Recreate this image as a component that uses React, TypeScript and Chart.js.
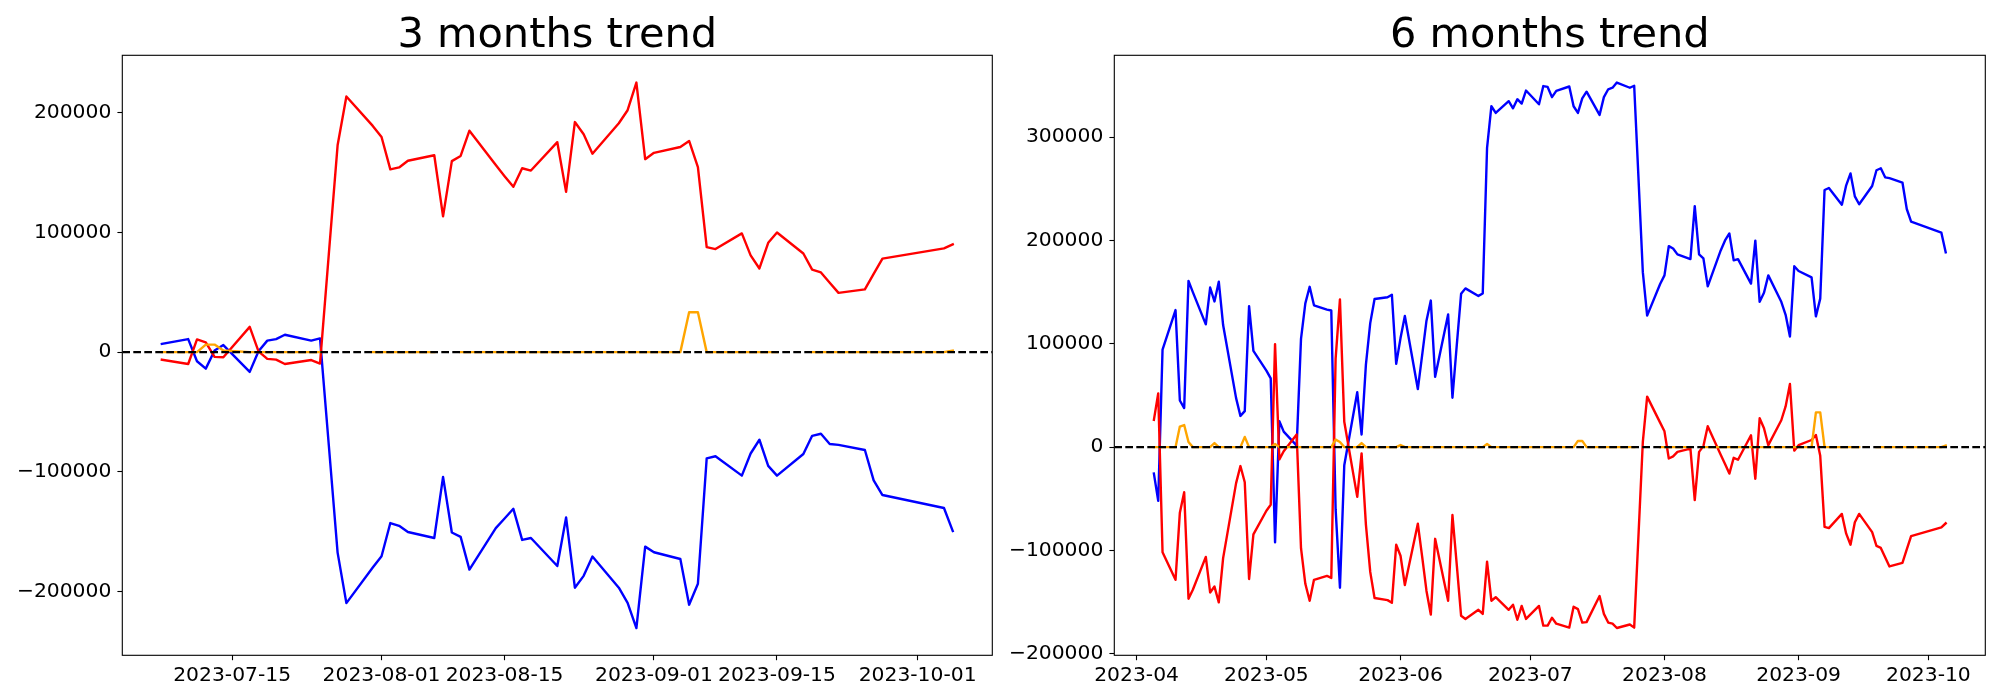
import React, { useEffect, useRef } from "react";
import { Chart, registerables } from "chart.js";

Chart.register(...registerables);

// ---------------- 3 months trend ----------------
const dates3m = [
  "2023-07-07", "2023-07-10", "2023-07-11", "2023-07-12", "2023-07-13", "2023-07-14",
  "2023-07-17", "2023-07-18", "2023-07-19", "2023-07-20", "2023-07-21",
  "2023-07-24", "2023-07-25", "2023-07-26", "2023-07-27", "2023-07-28", "2023-07-31",
  "2023-08-01", "2023-08-02", "2023-08-03", "2023-08-04",
  "2023-08-07", "2023-08-08", "2023-08-09", "2023-08-10", "2023-08-11",
  "2023-08-14", "2023-08-15", "2023-08-16", "2023-08-17", "2023-08-18",
  "2023-08-21", "2023-08-22", "2023-08-23", "2023-08-24", "2023-08-25",
  "2023-08-28", "2023-08-29", "2023-08-30", "2023-08-31",
  "2023-09-01", "2023-09-04", "2023-09-05", "2023-09-06", "2023-09-07", "2023-09-08",
  "2023-09-11", "2023-09-12", "2023-09-13", "2023-09-14", "2023-09-15",
  "2023-09-18", "2023-09-19", "2023-09-20", "2023-09-21", "2023-09-22",
  "2023-09-25", "2023-09-26", "2023-09-27", "2023-10-04", "2023-10-05",
];
const blue3m = [
  6900, 10900, -7600, -13800, 1300, 5900,
  -16500, 700, 9600, 10900, 14500,
  9600, 11500, -77800, -167500, -209700, -180000,
  -170500, -142800, -145100, -150300,
  -155300, -104200, -150700, -154300, -181700,
  -147000, -139000, -130900, -156900, -155300,
  -178700, -138100, -196800, -186900, -170800,
  -196800, -209400, -230500, -162500,
  -167200, -172800, -211000, -193500, -88700, -87000,
  -103200, -84700, -73200, -95000, -103200,
  -85100, -69900, -68200, -76800, -77500,
  -81800, -107200, -119400, -130200, -149400,
];
const red3m = [
  -6300, -9900, 10600, 8200, -4000, -4300,
  21100, 700, -5600, -6300, -9900,
  -6600, -9600, 81800, 172800, 213600, 189000,
  179700, 152700, 154300, 159900,
  164500, 113400, 159600, 163900, 185000,
  156300, 147000, 138100, 153600, 151700,
  175400, 133900, 192200, 182000, 165800,
  191200, 202100, 225200, 161200,
  166500, 171400, 176400, 154600, 87700, 86100,
  99200, 80800, 69900, 91300, 99900,
  82400, 68900, 66600, 58000, 49500,
  52400, 65300, 78100, 86700, 90000,
];
const orange3m = [
  0, 0, 0, 6300, 6300, 1300,
  0, 0, 0, 0, 0,
  0, 0, null, null, null, 0,
  0, 0, 0, 0,
  0, null, null, 0, 0,
  0, 0, 0, 0, 0,
  0, 0, 0, 0, 0,
  0, 0, 0, 0,
  0, 0, 33300, 33300, 0, 0,
  0, 0, 0, 0, 0,
  null, 0, 0, 0, 0,
  0, 0, 0, 0, 1300,
];
const xTickDates3m = ["2023-07-15", "2023-08-01", "2023-08-15", "2023-09-01", "2023-09-15", "2023-10-01"];
const xTickLabels3m = ["2023-07-15", "2023-08-01", "2023-08-15", "2023-09-01", "2023-09-15", "2023-10-01"];
const yTicks3m = [-200000, -100000, 0, 100000, 200000];

// ---------------- 6 months trend ----------------
const dates6m = [
  "2023-04-05", "2023-04-06", "2023-04-07",
  "2023-04-10", "2023-04-11", "2023-04-12", "2023-04-13", "2023-04-14",
  "2023-04-17", "2023-04-18", "2023-04-19", "2023-04-20", "2023-04-21",
  "2023-04-24", "2023-04-25", "2023-04-26", "2023-04-27", "2023-04-28",
  "2023-05-01", "2023-05-02", "2023-05-03", "2023-05-04", "2023-05-05",
  "2023-05-08", "2023-05-09", "2023-05-10", "2023-05-11", "2023-05-12",
  "2023-05-15", "2023-05-16", "2023-05-17", "2023-05-18", "2023-05-19",
  "2023-05-22", "2023-05-23", "2023-05-24", "2023-05-25", "2023-05-26",
  "2023-05-29", "2023-05-30", "2023-05-31",
  "2023-06-01", "2023-06-02",
  "2023-06-05", "2023-06-06", "2023-06-07", "2023-06-08", "2023-06-09",
  "2023-06-12", "2023-06-13", "2023-06-14", "2023-06-15", "2023-06-16",
  "2023-06-19", "2023-06-20", "2023-06-21", "2023-06-22", "2023-06-23",
  "2023-06-26", "2023-06-27", "2023-06-28", "2023-06-29", "2023-06-30",
  "2023-07-03", "2023-07-04", "2023-07-05", "2023-07-06", "2023-07-07",
  "2023-07-10", "2023-07-11", "2023-07-12", "2023-07-13", "2023-07-14",
  "2023-07-17", "2023-07-18", "2023-07-19", "2023-07-20", "2023-07-21",
  "2023-07-24", "2023-07-25", "2023-07-26", "2023-07-27", "2023-07-28",
  "2023-07-31",
  "2023-08-01", "2023-08-02", "2023-08-03", "2023-08-04",
  "2023-08-07", "2023-08-08", "2023-08-09", "2023-08-10", "2023-08-11",
  "2023-08-14", "2023-08-15", "2023-08-16", "2023-08-17", "2023-08-18",
  "2023-08-21", "2023-08-22", "2023-08-23", "2023-08-24", "2023-08-25",
  "2023-08-28", "2023-08-29", "2023-08-30", "2023-08-31",
  "2023-09-01",
  "2023-09-04", "2023-09-05", "2023-09-06", "2023-09-07", "2023-09-08",
  "2023-09-11", "2023-09-12", "2023-09-13", "2023-09-14", "2023-09-15",
  "2023-09-18", "2023-09-19", "2023-09-20", "2023-09-21", "2023-09-22",
  "2023-09-25", "2023-09-26", "2023-09-27",
  "2023-10-04", "2023-10-05",
];
const blue6m = [
  -25600, -52000, 94400,
  132600, 45100, 37800, 160900, 150000,
  118800, 154400, 141000, 160100, 118100,
  47400, 30200, 34800, 136400, 93200,
  74100, 66500, -92100, 25200, 15000,
  1500, 104700, 139100, 155100, 137200,
  133000, 132200, -60000, -136000, -17600,
  53100, 12200, 79900, 120000, 143300,
  145000, 147500, 80600,
  105500, 126900,
  56200, 89000, 122300, 141800, 68000,
  128400, 47800, 98600, 148300, 153600,
  146300, 148600, 289600, 329800, 323300,
  334700, 327800, 336600, 332400, 345000,
  331700, 349300, 348500, 338600, 344700,
  348900, 329800, 323300, 337400, 343900,
  321400, 338600, 346200, 347700, 352700,
  347700, 349600, 260000, 169300, 127200,
  157800,
  166200, 194500, 192200, 186500,
  181900, 233100, 186500, 182600, 155500,
  190300, 200000, 206700, 180700, 181900,
  158200, 199800, 140600, 149400, 166200,
  140600, 128000, 107000, 175000,
  170400,
  164300, 126500, 143700, 248800, 250700,
  234600, 253300, 264800, 242600, 235000,
  252600, 267900, 269800, 261000, 260200,
  256000, 230400, 218200,
  207500, 188400,
];
const red6m = [
  26400, 52000, -101600,
  -128400, -63400, -43600, -146700, -138000,
  -106200, -140600, -134900, -150200, -107400,
  -34800, -18300, -34000, -127600, -84400,
  -61500, -55800, 99700, -11800, -4000,
  12200, -97800, -132200, -148600, -128400,
  -124600, -126500, 85600, 142900, 24500,
  -48100, -6100, -74900, -120700, -146000,
  -148000, -150600, -94400,
  -105100, -133400,
  -74100, -106000, -139100, -162000, -88700,
  -148600, -65700, -114000, -163200, -166200,
  -157400, -161300, -110800, -148600, -145200,
  -157400, -152500, -167000, -153600, -166200,
  -153600, -172700, -172700, -165100, -170800,
  -174600, -154400, -156700, -169700, -169300,
  -144100, -161300, -169700, -170800, -175000,
  -171600, -174600, -85000, 5000, 48900,
  23700,
  15300, -11000, -9000, -4600,
  -1500, -51200, -4600, 1000, 20300,
  -7300, -16400, -25600, -10300, -12200,
  11500, -30600, 27900, 18300, 1900,
  26000, 39400, 61100, -3400,
  1900,
  6900, 11800, -8400, -77100, -78300,
  -64600, -83700, -94400, -72600, -64600,
  -82200, -95600, -97500, -106600, -115400,
  -112000, -99000, -86000,
  -77600, -73700,
];
const orange6m = [
  0, 0, 0,
  0, 19900, 21400, 5000, 0,
  0, 0, 4000, 0, 0,
  0, 0, 9900, 0, 0,
  0, 0, 3000, 0, 0,
  0, 0, 0, 0, 0,
  0, 0, 7300, 5000, 0,
  0, 4000, 0, 0, 0,
  0, 0, 0,
  2000, 0,
  0, 0, 0, 0, 0,
  0, 0, 0, 0, 0,
  0, 0, 3000, 0, 0,
  0, 0, 0, 0, 0,
  0, 0, 0, 0, 0,
  0, 0, 6000, 6000, 0,
  0, 0, 0, 0, 0,
  0, 0, null, null, null,
  0,
  0, 0, 0, 0,
  0, null, null, 0, 0,
  0, 0, 0, 0, 0,
  0, 0, 0, 0, 0,
  0, 0, 0, 0,
  0,
  0, 33600, 33600, 0, 0,
  0, 0, 0, 0, 0,
  null, 0, 0, 0, 0,
  0, 0, 0,
  0, 1500,
];
const xTickDates6m = ["2023-04-01", "2023-05-01", "2023-06-01", "2023-07-01", "2023-08-01", "2023-09-01", "2023-10-01"];
const xTickLabels6m = ["2023-04", "2023-05", "2023-06", "2023-07", "2023-08", "2023-09", "2023-10"];
const yTicks6m = [-200000, -100000, 0, 100000, 200000, 300000];

// ---------------- layout / style ----------------
const FIG_H = 700;
const PLOT_TOP = 55.3;
const PLOT_BOTTOM = 655.3;
const FONT = '"DejaVu Sans", "Liberation Sans", sans-serif';
const TICK_SIZE = 20.3;
const TITLE_SIZE = 41.5;
const TICK_LEN = 4.9;
const LINE_W = 2.4;

const DAY_MS = 86400000;
function toDay(s: string): number {
  const [y, m, d] = s.split("-").map(Number);
  return Date.UTC(y, m - 1, d) / DAY_MS;
}
function fmtY(v: number): string {
  return v < 0 ? "\u2212" + String(Math.abs(v)) : String(v);
}

type PanelProps = {
  title: string;
  dates: string[];
  blue: (number | null)[];
  red: (number | null)[];
  orange: (number | null)[];
  xTickDates: string[];
  xTickLabels: string[];
  yTicks: number[];
  canvasLeft: number;
  canvasWidth: number;
  plotLeft: number;
  plotRight: number;
};

function Panel(p: PanelProps) {
  const ref = useRef<HTMLCanvasElement | null>(null);

  useEffect(() => {
    if (!ref.current) return;
    const xs = p.dates.map(toDay);
    const pts = (vals: (number | null)[]) => xs.map((x, i) => ({ x, y: vals[i] }));
    const all = [...p.blue, ...p.red, ...p.orange].filter((v) => v !== null) as number[];
    const yMinD = Math.min(...all);
    const yMaxD = Math.max(...all);
    const yPad = (yMaxD - yMinD) * 0.05;
    const xMinD = xs[0];
    const xMaxD = xs[xs.length - 1];
    const xPad = (xMaxD - xMinD) * 0.05;

    const lineCommon = {
      borderWidth: LINE_W,
      pointRadius: 0,
      pointHoverRadius: 0,
      tension: 0,
      fill: false,
      spanGaps: false,
      borderJoinStyle: "round" as const,
      borderCapStyle: "square" as const,
    };

    const title = p.title;
    const decor = {
      id: "decor",
      afterDatasetsDraw(chart: any) {
        const { ctx, chartArea: a, scales } = chart;
        const y0 = scales.y.getPixelForValue(0);
        ctx.save();
        ctx.beginPath();
        ctx.rect(a.left, a.top, a.right - a.left, a.bottom - a.top);
        ctx.clip();
        ctx.setLineDash([7.7, 3.3]);
        ctx.lineWidth = 2.2;
        ctx.strokeStyle = "#000000";
        ctx.beginPath();
        ctx.moveTo(a.left, y0);
        ctx.lineTo(a.right, y0);
        ctx.stroke();
        ctx.restore();

        ctx.save();
        ctx.lineWidth = 1.1;
        ctx.strokeStyle = "#000000";
        ctx.strokeRect(a.left, a.top, a.right - a.left, a.bottom - a.top);
        ctx.fillStyle = "#000000";
        ctx.font = `${TITLE_SIZE}px ${FONT}`;
        ctx.textAlign = "center";
        ctx.textBaseline = "alphabetic";
        ctx.fillText(title, (a.left + a.right) / 2, 46.5);
        ctx.restore();
      },
    };

    const yAxisWidth = p.plotLeft - p.canvasLeft;
    const rightPad = p.canvasLeft + p.canvasWidth - p.plotRight;

    const chart = new Chart(ref.current, {
      type: "line",
      data: {
        datasets: [
          { label: "blue", data: pts(p.blue), borderColor: "#0000ff", backgroundColor: "#0000ff", order: 3, ...lineCommon },
          { label: "red", data: pts(p.red), borderColor: "#ff0000", backgroundColor: "#ff0000", order: 2, ...lineCommon },
          { label: "orange", data: pts(p.orange), borderColor: "#ffa500", backgroundColor: "#ffa500", order: 1, ...lineCommon },
        ],
      },
      options: {
        animation: false,
        responsive: false,
        maintainAspectRatio: false,
        devicePixelRatio: 1,
        events: [],
        layout: { padding: { left: 0, right: rightPad, top: PLOT_TOP, bottom: 0 } },
        plugins: {
          legend: { display: false },
          tooltip: { enabled: false },
          title: { display: false },
        },
        scales: {
          x: {
            type: "linear",
            bounds: "data",
            min: xMinD - xPad,
            max: xMaxD + xPad,
            border: { display: false },
            grid: {
              display: true,
              drawOnChartArea: false,
              drawTicks: true,
              tickLength: TICK_LEN,
              tickColor: "#000000",
              tickWidth: 1.1,
            },
            ticks: {
              autoSkip: false,
              maxRotation: 0,
              minRotation: 0,
              padding: 3,
              color: "#000000",
              font: { family: FONT, size: TICK_SIZE },
              callback: (_v: any, i: number) => p.xTickLabels[i],
            },
            afterBuildTicks: (axis: any) => {
              axis.ticks = p.xTickDates.map((d) => ({ value: toDay(d) }));
            },
            afterFit: (axis: any) => {
              axis.height = FIG_H - PLOT_BOTTOM;
            },
          },
          y: {
            type: "linear",
            bounds: "data",
            min: yMinD - yPad,
            max: yMaxD + yPad,
            border: { display: false },
            grid: {
              display: true,
              drawOnChartArea: false,
              drawTicks: true,
              tickLength: TICK_LEN,
              tickColor: "#000000",
              tickWidth: 1.1,
            },
            ticks: {
              padding: 6.1,
              color: "#000000",
              font: { family: FONT, size: TICK_SIZE },
              callback: (v: any) => fmtY(Number(v)),
            },
            afterBuildTicks: (axis: any) => {
              axis.ticks = p.yTicks.map((v) => ({ value: v }));
            },
            afterFit: (axis: any) => {
              axis.width = yAxisWidth;
            },
          },
        },
      },
      plugins: [decor],
    } as any);

    return () => chart.destroy();
  }, []);

  return (
    <canvas
      ref={ref}
      width={p.canvasWidth}
      height={FIG_H}
      style={{ position: "absolute", left: p.canvasLeft, top: 0, width: p.canvasWidth, height: FIG_H }}
    />
  );
}

export default function App() {
  return (
    <div style={{ position: "absolute", left: 0, top: 0, width: 2000, height: FIG_H, background: "#ffffff" }}>
      <Panel
        title="3 months trend"
        dates={dates3m}
        blue={blue3m}
        red={red3m}
        orange={orange3m}
        xTickDates={xTickDates3m}
        xTickLabels={xTickLabels3m}
        yTicks={yTicks3m}
        canvasLeft={0}
        canvasWidth={1000}
        plotLeft={122.3}
        plotRight={992.3}
      />
      <Panel
        title="6 months trend"
        dates={dates6m}
        blue={blue6m}
        red={red6m}
        orange={orange6m}
        xTickDates={xTickDates6m}
        xTickLabels={xTickLabels6m}
        yTicks={yTicks6m}
        canvasLeft={1000}
        canvasWidth={1000}
        plotLeft={1114.3}
        plotRight={1985.3}
      />
    </div>
  );
}
